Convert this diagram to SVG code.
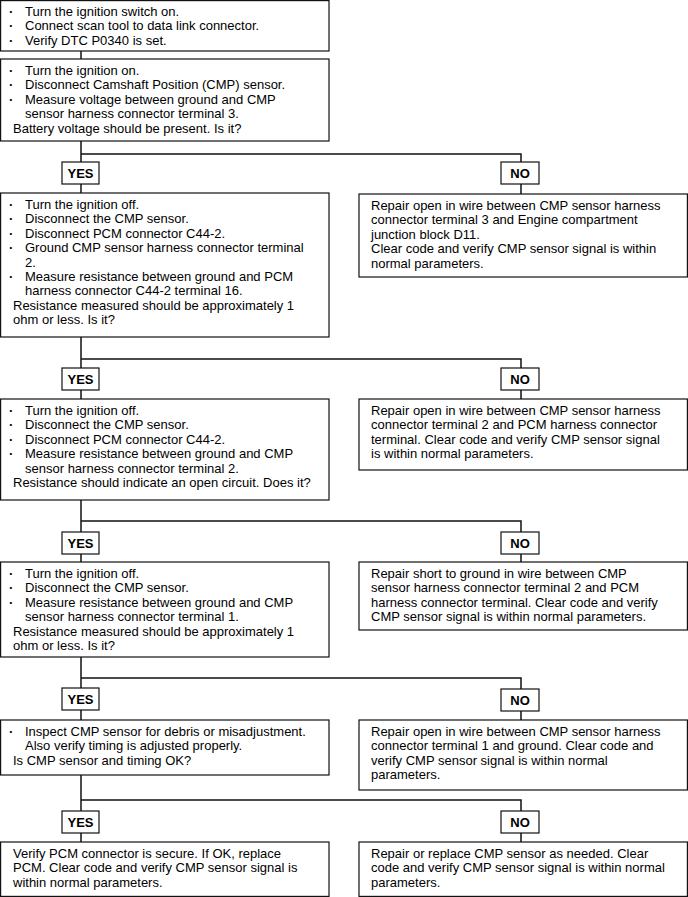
<svg xmlns="http://www.w3.org/2000/svg" width="688" height="897" viewBox="0 0 688 897">
<style>
.box{fill:#fff;stroke:#111;stroke-width:1.2}
.lbl{fill:#fff;stroke:#111;stroke-width:1.2}
.t{font-family:"Liberation Sans",Arial,sans-serif;font-size:13px;fill:#000}
.d{font-weight:bold}
.b{font-family:"Liberation Sans",Arial,sans-serif;font-size:13px;font-weight:bold;fill:#000;text-anchor:middle}
.c{fill:none;stroke:#111;stroke-width:1.5}
</style>
<rect width="688" height="897" fill="#fff"/>
<g id="connectors">
<line class="c" x1="81" y1="51" x2="81" y2="59"/>
<polyline class="c" points="81,141 81,193"/>
<polyline class="c" points="81,154 521,154 521,194"/>
<polyline class="c" points="81,337 81,399"/>
<polyline class="c" points="81,359 521,359 521,399"/>
<polyline class="c" points="81,500 81,562"/>
<polyline class="c" points="81,521 521,521 521,562"/>
<polyline class="c" points="81,657 81,720"/>
<polyline class="c" points="81,678 521,678 521,720"/>
<polyline class="c" points="81,775 81,842"/>
<polyline class="c" points="81,800 521,800 521,842"/>
</g>
<g id="step1">
<rect class="box" x="0.6" y="0.6" width="328.4" height="50.4"/>
<text class="t"><tspan class="d" x="9" y="16">·</tspan><tspan x="25" y="16">Turn the ignition switch on.</tspan><tspan class="d" x="9" y="30.4">·</tspan><tspan x="25" y="30.4">Connect scan tool to data link connector.</tspan><tspan class="d" x="9" y="44.8">·</tspan><tspan x="25" y="44.8">Verify DTC P0340 is set.</tspan></text>
</g>
<g id="step2">
<rect class="box" x="0.6" y="59" width="328.4" height="82"/>
<text class="t"><tspan class="d" x="9" y="75">·</tspan><tspan x="25" y="75">Turn the ignition on.</tspan><tspan class="d" x="9" y="89.4">·</tspan><tspan x="25" y="89.4">Disconnect Camshaft Position (CMP) sensor.</tspan><tspan class="d" x="9" y="103.8">·</tspan><tspan x="25" y="103.8">Measure voltage between ground and CMP</tspan><tspan x="25" y="118.2">sensor harness connector terminal 3.</tspan><tspan x="13" y="132.6">Battery voltage should be present. Is it?</tspan></text>
</g>
<g id="yes1"><rect class="lbl" x="62" y="162" width="37" height="22"/><text class="b" x="80.5" y="178">YES</text></g>
<g id="no1"><rect class="lbl" x="501" y="162" width="38" height="22"/><text class="b" x="520" y="178">NO</text></g>
<g id="step3">
<rect class="box" x="0.6" y="193" width="328.4" height="144"/>
<text class="t"><tspan class="d" x="9" y="209">·</tspan><tspan x="25" y="209">Turn the ignition off.</tspan><tspan class="d" x="9" y="223.4">·</tspan><tspan x="25" y="223.4">Disconnect the CMP sensor.</tspan><tspan class="d" x="9" y="237.8">·</tspan><tspan x="25" y="237.8">Disconnect PCM connector C44-2.</tspan><tspan class="d" x="9" y="252.2">·</tspan><tspan x="25" y="252.2">Ground CMP sensor harness connector terminal</tspan><tspan x="25" y="266.6">2.</tspan><tspan class="d" x="9" y="281">·</tspan><tspan x="25" y="281">Measure resistance between ground and PCM</tspan><tspan x="25" y="295.4">harness connector C44-2 terminal 16.</tspan><tspan x="13" y="309.8">Resistance measured should be approximately 1</tspan><tspan x="13" y="324.2">ohm or less. Is it?</tspan></text>
</g>
<g id="repair1">
<rect class="box" x="359" y="194" width="328.4" height="83"/>
<text class="t"><tspan x="371" y="210">Repair open in wire between CMP sensor harness</tspan><tspan x="371" y="224.4">connector terminal 3 and Engine compartment</tspan><tspan x="371" y="238.8">junction block D11.</tspan><tspan x="371" y="253.2">Clear code and verify CMP sensor signal is within</tspan><tspan x="371" y="267.6">normal parameters.</tspan></text>
</g>
<g id="yes2"><rect class="lbl" x="62" y="368" width="37" height="22"/><text class="b" x="80.5" y="384">YES</text></g>
<g id="no2"><rect class="lbl" x="501" y="368" width="38" height="22"/><text class="b" x="520" y="384">NO</text></g>
<g id="step4">
<rect class="box" x="0.6" y="399" width="328.4" height="101"/>
<text class="t"><tspan class="d" x="9" y="415">·</tspan><tspan x="25" y="415">Turn the ignition off.</tspan><tspan class="d" x="9" y="429.4">·</tspan><tspan x="25" y="429.4">Disconnect the CMP sensor.</tspan><tspan class="d" x="9" y="443.8">·</tspan><tspan x="25" y="443.8">Disconnect PCM connector C44-2.</tspan><tspan class="d" x="9" y="458.2">·</tspan><tspan x="25" y="458.2">Measure resistance between ground and CMP</tspan><tspan x="25" y="472.6">sensor harness connector terminal 2.</tspan><tspan x="13" y="487">Resistance should indicate an open circuit. Does it?</tspan></text>
</g>
<g id="repair2">
<rect class="box" x="359" y="399" width="328.4" height="71"/>
<text class="t"><tspan x="371" y="415">Repair open in wire between CMP sensor harness</tspan><tspan x="371" y="429.4">connector terminal 2 and PCM harness connector</tspan><tspan x="371" y="443.8">terminal. Clear code and verify CMP sensor signal</tspan><tspan x="371" y="458.2">is within normal parameters.</tspan></text>
</g>
<g id="yes3"><rect class="lbl" x="62" y="532" width="37" height="22"/><text class="b" x="80.5" y="548">YES</text></g>
<g id="no3"><rect class="lbl" x="501" y="532" width="38" height="22"/><text class="b" x="520" y="548">NO</text></g>
<g id="step5">
<rect class="box" x="0.6" y="562" width="328.4" height="95"/>
<text class="t"><tspan class="d" x="9" y="578">·</tspan><tspan x="25" y="578">Turn the ignition off.</tspan><tspan class="d" x="9" y="592.4">·</tspan><tspan x="25" y="592.4">Disconnect the CMP sensor.</tspan><tspan class="d" x="9" y="606.8">·</tspan><tspan x="25" y="606.8">Measure resistance between ground and CMP</tspan><tspan x="25" y="621.2">sensor harness connector terminal 1.</tspan><tspan x="13" y="635.6">Resistance measured should be approximately 1</tspan><tspan x="13" y="650">ohm or less. Is it?</tspan></text>
</g>
<g id="repair3">
<rect class="box" x="359" y="562" width="328.4" height="68"/>
<text class="t"><tspan x="371" y="578">Repair short to ground in wire between CMP</tspan><tspan x="371" y="592.4">sensor harness connector terminal 2 and PCM</tspan><tspan x="371" y="606.8">harness connector terminal. Clear code and verify</tspan><tspan x="371" y="621.2">CMP sensor signal is within normal parameters.</tspan></text>
</g>
<g id="yes4"><rect class="lbl" x="62" y="688" width="37" height="22"/><text class="b" x="80.5" y="704">YES</text></g>
<g id="no4"><rect class="lbl" x="501" y="689" width="38" height="22"/><text class="b" x="520" y="705">NO</text></g>
<g id="step6">
<rect class="box" x="0.6" y="720" width="328.4" height="55"/>
<text class="t"><tspan class="d" x="9" y="736">·</tspan><tspan x="25" y="736">Inspect CMP sensor for debris or misadjustment.</tspan><tspan x="25" y="750.4">Also verify timing is adjusted properly.</tspan><tspan x="13" y="764.8">Is CMP sensor and timing OK?</tspan></text>
</g>
<g id="repair4">
<rect class="box" x="359" y="720" width="328.4" height="70"/>
<text class="t"><tspan x="371" y="736">Repair open in wire between CMP sensor harness</tspan><tspan x="371" y="750.4">connector terminal 1 and ground. Clear code and</tspan><tspan x="371" y="764.8">verify CMP sensor signal is within normal</tspan><tspan x="371" y="779.2">parameters.</tspan></text>
</g>
<g id="yes5"><rect class="lbl" x="62" y="811" width="37" height="22"/><text class="b" x="80.5" y="827">YES</text></g>
<g id="no5"><rect class="lbl" x="501" y="811" width="38" height="22"/><text class="b" x="520" y="827">NO</text></g>
<g id="step7">
<rect class="box" x="0.6" y="842" width="328.4" height="54.4"/>
<text class="t"><tspan x="13" y="858">Verify PCM connector is secure. If OK, replace</tspan><tspan x="13" y="872.4">PCM. Clear code and verify CMP sensor signal is</tspan><tspan x="13" y="886.8">within normal parameters.</tspan></text>
</g>
<g id="repair5">
<rect class="box" x="359" y="842" width="328.4" height="54.4"/>
<text class="t"><tspan x="371" y="858">Repair or replace CMP sensor as needed. Clear</tspan><tspan x="371" y="872.4">code and verify CMP sensor signal is within normal</tspan><tspan x="371" y="886.8">parameters.</tspan></text>
</g>
</svg>
